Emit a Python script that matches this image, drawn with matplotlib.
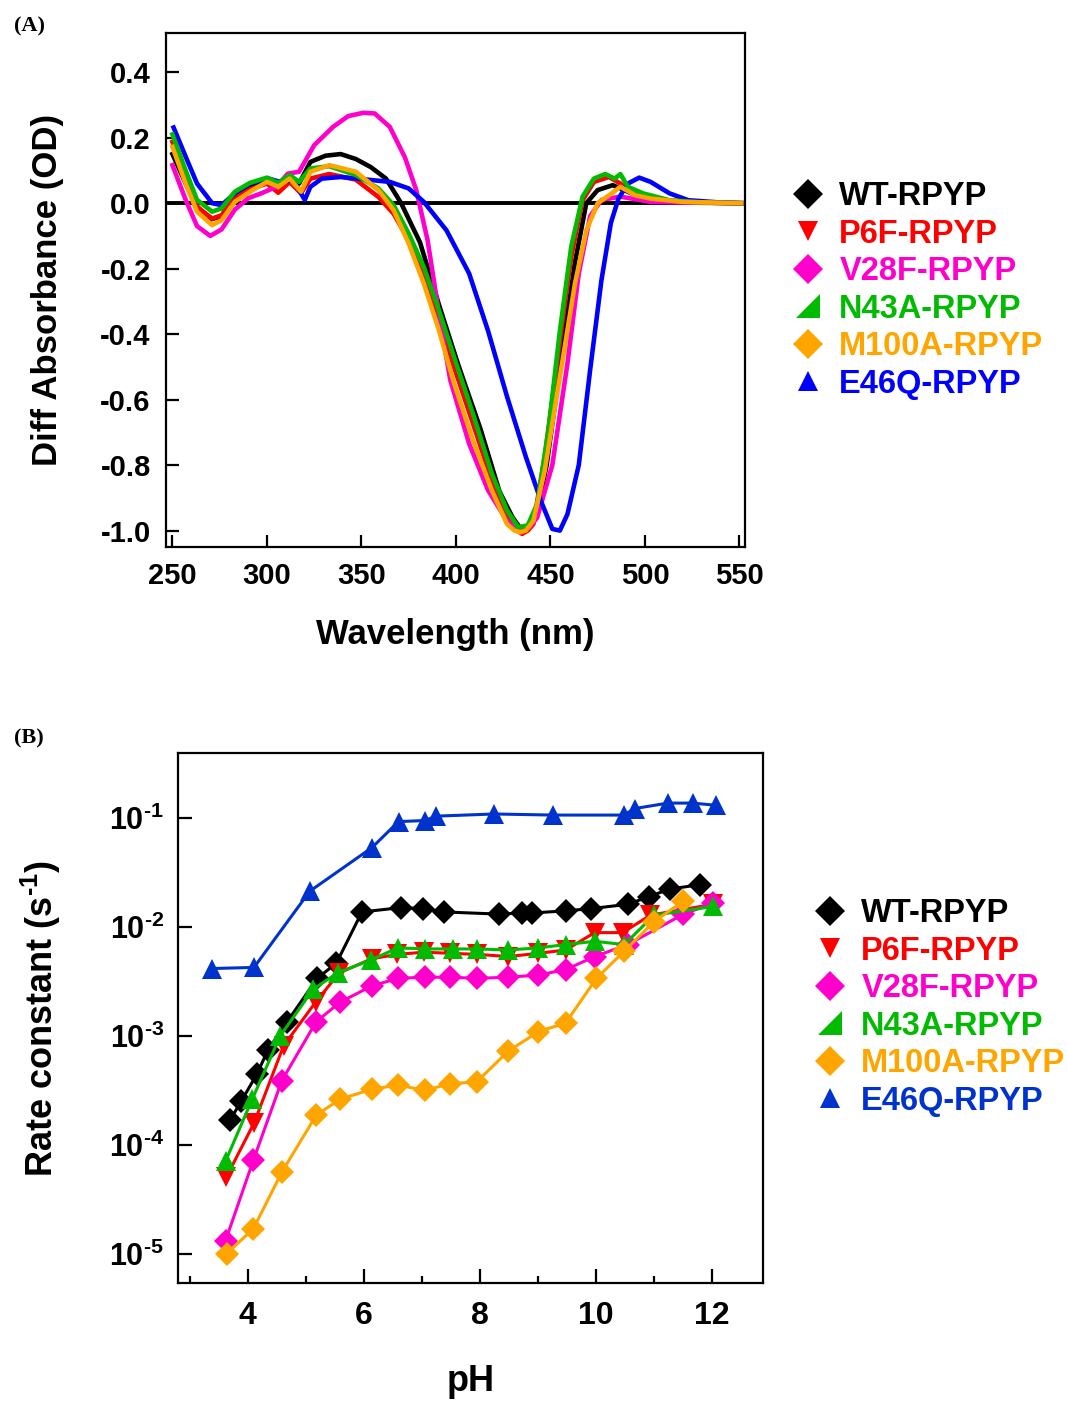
import numpy as np
import matplotlib
matplotlib.use("Agg")
import matplotlib.pyplot as plt
from matplotlib.lines import Line2D
from matplotlib.path import Path

plt.rcParams['font.family'] = 'Liberation Sans'
plt.rcParams['font.weight'] = 'bold'
plt.rcParams['mathtext.fontset'] = 'custom'
plt.rcParams['mathtext.rm'] = 'Liberation Sans:bold'
plt.rcParams['mathtext.it'] = 'Liberation Sans:bold'
plt.rcParams['mathtext.bf'] = 'Liberation Sans:bold'

names = ["WT-RPYP", "P6F-RPYP", "V28F-RPYP", "N43A-RPYP", "M100A-RPYP", "E46Q-RPYP"]
colors_a = ["#000000", "#ff0000", "#ff00cc", "#00bb00", "#ffa500", "#0000ff"]
colors_b = ["#000000", "#ff0000", "#ff00cc", "#00bb00", "#ffa500", "#0033cc"]

# ---- panel A: difference spectra (wavelength nm, diff absorbance OD)
wl_wt = [250, 257, 263, 270, 276, 283, 291, 301, 305, 312, 317, 323, 331, 339, 347, 355, 363, 371,
         381, 391, 401, 413, 423, 430, 435, 439, 443, 448, 453, 458, 463, 469, 475, 483, 493, 503, 513, 530, 551]
od_wt = [0.15, 0.06, -0.01, -0.05, -0.04, 0.03, 0.055, 0.07, 0.05, 0.08, 0.06, 0.126, 0.145, 0.15, 0.135, 0.11,
         0.075, 0.0, -0.12, -0.31, -0.49, -0.69, -0.88, -0.96, -1.0, -0.99, -0.94, -0.8, -0.59, -0.38, -0.18, 0.0,
         0.04, 0.055, 0.03, 0.015, 0.007, 0.002, 0.0]

wl_p6f = [250, 257, 263, 271, 276, 283, 291, 300, 306, 312, 318, 323, 333, 347, 359, 367, 375, 383, 391,
          399, 409, 419, 427, 431, 435, 438, 441, 447, 451, 455, 461, 467, 473, 481, 487, 495, 513, 530, 551]
od_p6f = [0.187, 0.08, -0.011, -0.047, -0.037, 0.014, 0.042, 0.06, 0.032, 0.065, 0.03, 0.075, 0.089, 0.072,
          0.019, -0.032, -0.113, -0.225, -0.358, -0.5, -0.673, -0.847, -0.96, -0.995, -1.01, -1.0, -0.98,
          -0.775, -0.6, -0.42, -0.164, 0.009, 0.065, 0.08, 0.06, 0.024, 0.004, 0.001, 0.0]

wl_v28f = [250, 257, 263, 270, 276, 283, 290, 297, 305, 311, 317, 325, 335, 343, 351, 357, 365, 373, 379,
           385, 391, 397, 407, 417, 427, 431, 435, 439, 443, 451, 459, 465, 471, 477, 487, 503, 551]
od_v28f = [0.116, 0.01, -0.07, -0.1, -0.08, -0.02, 0.015, 0.03, 0.05, 0.09, 0.096, 0.177, 0.233, 0.266,
           0.276, 0.274, 0.233, 0.14, 0.04, -0.113, -0.337, -0.54, -0.735, -0.877, -0.97, -0.99, -1.0,
           -0.99, -0.96, -0.8, -0.49, -0.215, -0.04, 0.01, 0.02, 0.004, 0.0]

wl_n43a = [250, 257, 263, 271, 276, 283, 291, 300, 306, 312, 317, 323, 333, 347, 359, 367, 375, 383, 391,
           399, 409, 419, 427, 433, 438, 443, 449, 455, 461, 467, 473, 479, 484, 487, 491, 499, 513, 530, 551]
od_n43a = [0.21, 0.1, 0.01, -0.026, -0.016, 0.035, 0.062, 0.078, 0.062, 0.086, 0.065, 0.106, 0.113, 0.086,
           0.045, -0.006, -0.093, -0.195, -0.327, -0.47, -0.643, -0.826, -0.938, -0.99, -0.984, -0.918,
           -0.69, -0.39, -0.133, 0.02, 0.075, 0.089, 0.075, 0.089, 0.05, 0.03, 0.009, 0.002, 0.0]

wl_m100a = [250, 257, 263, 271, 276, 283, 291, 300, 306, 312, 318, 323, 333, 347, 359, 367, 375, 383, 391,
            399, 409, 419, 427, 431, 434, 437, 441, 447, 455, 463, 469, 475, 481, 487, 495, 503, 520, 551]
od_m100a = [0.172, 0.06, -0.026, -0.067, -0.052, 0.004, 0.035, 0.065, 0.05, 0.075, 0.035, 0.096, 0.116,
            0.096, 0.04, -0.021, -0.123, -0.245, -0.388, -0.55, -0.724, -0.877, -0.98, -1.0, -1.005, -1.0,
            -0.97, -0.816, -0.53, -0.245, -0.083, 0.0, 0.024, 0.05, 0.024, 0.014, 0.004, 0.0]

wl_e46q = [250.6, 257, 263, 271, 276, 283, 291, 301, 307, 314, 317, 320, 323, 329, 339, 353, 365, 375, 383,
           395, 407, 417, 427, 437, 445, 451, 455, 459, 465, 471, 477, 482, 486, 491, 497, 503, 513, 523, 540, 551]
od_e46q = [0.231, 0.142, 0.06, 0.0, -0.006, 0.03, 0.06, 0.075, 0.065, 0.07, 0.04, 0.01, 0.05, 0.075, 0.08,
           0.072, 0.065, 0.045, 0.004, -0.083, -0.215, -0.39, -0.59, -0.775, -0.91, -0.995, -1.0, -0.95,
           -0.8, -0.51, -0.235, -0.06, 0.014, 0.06, 0.078, 0.065, 0.03, 0.009, 0.002, 0.0]

spectra = {
    "WT-RPYP": (wl_wt, od_wt),
    "P6F-RPYP": (wl_p6f, od_p6f),
    "V28F-RPYP": (wl_v28f, od_v28f),
    "E46Q-RPYP": (wl_e46q, od_e46q),
    "N43A-RPYP": (wl_n43a, od_n43a),
    "M100A-RPYP": (wl_m100a, od_m100a),
}

# ---- panel B: rate constants vs pH (values are log10 k)
ph_wt = [3.70, 3.89, 4.16, 4.35, 4.68, 5.20, 5.53, 5.97, 6.65, 7.02, 7.38, 8.33, 8.73, 8.90, 9.48, 9.91, 10.55, 10.91, 11.27, 11.79]
lk_wt = [-3.77, -3.60, -3.35, -3.13, -2.87, -2.47, -2.33, -1.86, -1.82, -1.83, -1.86, -1.88, -1.87, -1.87, -1.85, -1.83, -1.79, -1.72, -1.65, -1.61]

ph_p6f = [3.63, 4.11, 4.62, 5.17, 5.58, 6.14, 6.58, 7.04, 7.48, 7.96, 8.49, 9.01, 9.48, 9.98, 10.46, 10.94, 12.02]
lk_p6f = [-4.30, -3.80, -3.09, -2.69, -2.42, -2.29, -2.25, -2.23, -2.24, -2.25, -2.27, -2.24, -2.21, -2.05, -2.05, -1.89, -1.79]

ph_v28f = [3.62, 4.10, 4.59, 5.18, 5.59, 6.14, 6.59, 7.05, 7.48, 7.95, 8.49, 9.01, 9.48, 9.98, 10.55, 11.51, 12.02]
lk_v28f = [-4.88, -4.14, -3.41, -2.87, -2.69, -2.54, -2.47, -2.46, -2.46, -2.47, -2.46, -2.44, -2.39, -2.27, -2.16, -1.88, -1.78]

ph_n43a = [3.62, 4.08, 4.56, 5.13, 5.55, 6.13, 6.59, 7.05, 7.54, 7.96, 8.49, 9.01, 9.48, 9.98, 10.49, 11.00, 12.02]
lk_n43a = [-4.15, -3.58, -3.00, -2.57, -2.42, -2.30, -2.19, -2.20, -2.20, -2.20, -2.21, -2.19, -2.16, -2.13, -2.16, -1.89, -1.81]

ph_m100a = [3.64, 4.10, 4.59, 5.18, 5.59, 6.14, 6.59, 7.05, 7.48, 7.95, 8.49, 9.01, 9.48, 10.01, 10.49, 11.00, 11.51]
lk_m100a = [-5.00, -4.77, -4.25, -3.73, -3.58, -3.49, -3.45, -3.50, -3.44, -3.42, -3.14, -2.96, -2.88, -2.47, -2.22, -1.95, -1.76]

ph_e46q = [3.39, 4.11, 5.07, 6.14, 6.60, 7.06, 7.24, 8.25, 9.26, 10.48, 10.67, 11.24, 11.67, 12.07]
lk_e46q = [-2.38, -2.37, -1.67, -1.27, -1.03, -1.02, -0.98, -0.96, -0.97, -0.97, -0.91, -0.86, -0.86, -0.88]

rates = [(ph_wt, lk_wt), (ph_p6f, lk_p6f), (ph_v28f, lk_v28f),
         (ph_n43a, lk_n43a), (ph_m100a, lk_m100a), (ph_e46q, lk_e46q)]
markers_b = ['D', 'v', 'D', '^', 'D', '^']
msize_b = [12.5, 14, 12.5, 15, 12.5, 15]

# legend marker for N43A is a right triangle
rtri = Path([(-1, -1), (1, -1), (1, 1), (-1, -1)], [1, 2, 2, 79])
leg_markers = ['D', 'v', 'D', rtri, 'D', '^']
leg_sizes = [15, 15, 15, 17, 15, 15]

fig = plt.figure(figsize=(10.67, 14.01), dpi=100)

# ================= panel A
axA = fig.add_axes([0.1556, 0.6096, 0.5427, 0.3669])
axA.axhline(0, color='black', lw=2.8, zorder=1)
for nm, (w, v) in spectra.items():
    c = colors_a[names.index(nm)]
    axA.plot(w, v, color=c, lw=3.3, zorder=2)
axA.set_xlim(246.6, 553)
axA.set_ylim(-1.05, 0.52)
axA.set_xticks([250, 300, 350, 400, 450, 500, 550])
axA.set_yticks([-1.0, -0.8, -0.6, -0.4, -0.2, 0.0, 0.2, 0.4])
axA.set_yticklabels(['%.1f' % t for t in [-1.0, -0.8, -0.6, -0.4, -0.2, 0.0, 0.2, 0.4]])
axA.tick_params(direction='in', length=9, width=1.6, labelsize=21, pad=11)
for s in axA.spines.values():
    s.set_linewidth(1.6)
axA.set_xlabel('Wavelength (nm)', fontsize=25, fontweight='bold', labelpad=20)
axA.set_ylabel('Diff Absorbance (OD)', fontsize=25, fontweight='bold', labelpad=26)

handles_a = [Line2D([], [], ls='none', marker=m, ms=s, color=c, markeredgewidth=0)
             for m, s, c in zip(leg_markers, leg_sizes, colors_a)]
axA.legend(handles_a, names, loc='upper left', bbox_to_anchor=(792 / 1067, 1 - 181 / 1401),
           bbox_transform=fig.transFigure, frameon=False, labelcolor=colors_a,
           prop={'size': 23.5, 'weight': 'bold'}, handlelength=1.0, handletextpad=0.45,
           labelspacing=0.2, borderpad=0, borderaxespad=0)

fig.text(14 / 1067, 1 - 26 / 1401, '(A)', family='Liberation Serif', fontweight='bold',
         fontsize=16, va='center', ha='left')

# ================= panel B
axB = fig.add_axes([0.1668, 0.0842, 0.5483, 0.3783])
for (ph, lk), c, m, ms in zip(rates, colors_b, markers_b, msize_b):
    axB.plot(ph, 10 ** np.array(lk), color=c, lw=2.2, marker=m, ms=ms, markeredgewidth=0)
axB.set_yscale('log')
axB.set_xlim(2.8, 12.88)
axB.set_ylim(10 ** -5.27, 10 ** -0.40)
axB.set_yticks([1e-5, 1e-4, 1e-3, 1e-2, 1e-1])
axB.set_yticklabels([r'$10^{\text{-5}}$', r'$10^{\text{-4}}$', r'$10^{\text{-3}}$',
                     r'$10^{\text{-2}}$', r'$10^{\text{-1}}$'])
axB.yaxis.set_minor_locator(matplotlib.ticker.NullLocator())
axB.set_xticks([4, 6, 8, 10, 12])
axB.set_xticks([3, 5, 7, 9, 11], minor=True)
axB.tick_params(which='major', direction='in', length=10, width=1.6, labelsize=23, pad=13)
axB.tick_params(axis='y', which='major', labelsize=22, pad=10)
axB.tick_params(which='minor', direction='in', length=5, width=1.6)
for s in axB.spines.values():
    s.set_linewidth(1.6)
axB.set_xlabel('pH', fontsize=26, fontweight='bold', labelpad=24)
axB.set_ylabel(r'Rate constant (s$^{\text{-1}}$)', fontsize=26, fontweight='bold', labelpad=33)

handles_b = [Line2D([], [], ls='none', marker=m, ms=s, color=c, markeredgewidth=0)
             for m, s, c in zip(leg_markers, leg_sizes, colors_b)]
axB.legend(handles_b, names, loc='upper left', bbox_to_anchor=(814 / 1067, 1 - 898 / 1401),
           bbox_transform=fig.transFigure, frameon=False, labelcolor=colors_b,
           prop={'size': 23.5, 'weight': 'bold'}, handlelength=1.0, handletextpad=0.45,
           labelspacing=0.2, borderpad=0, borderaxespad=0)

fig.text(14 / 1067, 1 - 738 / 1401, '(B)', family='Liberation Serif', fontweight='bold',
         fontsize=16, va='center', ha='left')

fig.savefig('out.png', dpi=100)
